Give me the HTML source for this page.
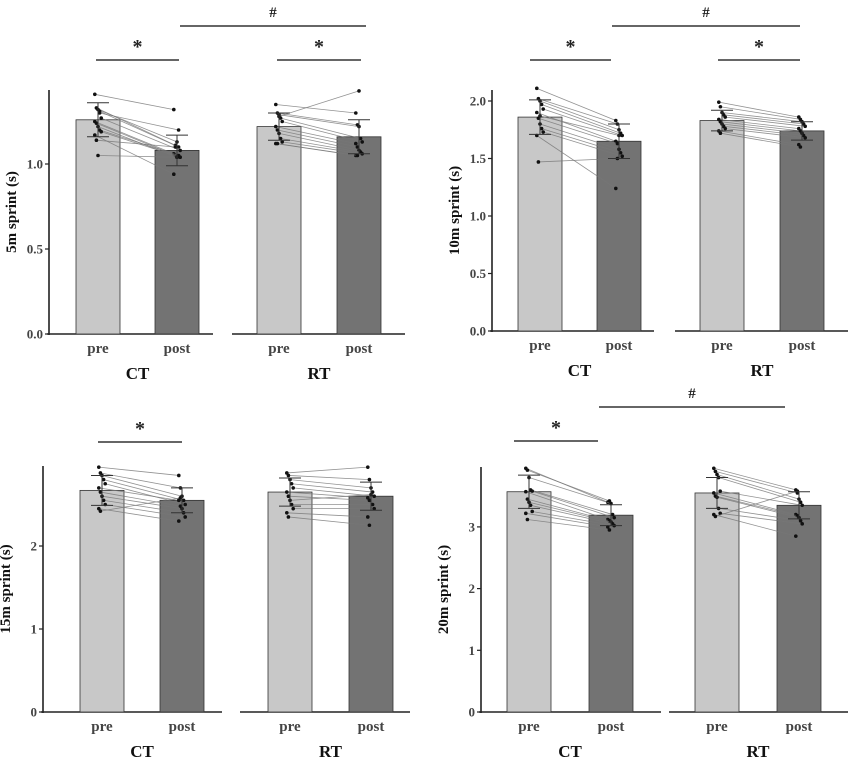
<!DOCTYPE html>
<html><head><meta charset="utf-8"><style>
html,body{margin:0;padding:0;background:#fff}
svg{display:block;font-family:"Liberation Serif",serif}
</style></head><body>
<svg id="fig" width="851" height="762" viewBox="0 0 851 762"></svg>
<script>
// ---- data ----
const conditions = ["pre","post"];
const groups = ["CT","RT"];
const titles = ["5m sprint (s)","10m sprint (s)","15m sprint (s)","20m sprint (s)"];
const ticks5 = ["0.0","0.5","1.0"];
const ticks10 = ["0.0","0.5","1.0","1.5","2.0"];
const ticks15 = ["0","1","2"];
const ticks20 = ["0","1","2","3"];
const means5 = [1.26,1.08,1.22,1.16];
const means10 = [1.86,1.65,1.83,1.74];
const means15 = [2.67,2.55,2.65,2.60];
const means20 = [3.57,3.19,3.55,3.35];
const sd5 = [0.10,0.09,0.08,0.10];
const sd10 = [0.15,0.15,0.09,0.08];
const sd15 = [0.18,0.15,0.17,0.17];
const sd20 = [0.27,0.17,0.25,0.22];
const ct5pre = [1.41,1.33,1.32,1.31,1.27,1.25,1.24,1.22,1.20,1.19,1.17,1.14,1.05,1.30];
const ct5post = [1.32,1.11,1.13,1.10,1.08,1.06,1.05,1.04,1.05,1.04,0.94,1.10,1.04,1.20];
const rt5pre = [1.35,1.30,1.29,1.27,1.25,1.22,1.20,1.18,1.15,1.13,1.12,1.12,1.28];
const rt5post = [1.30,1.23,1.22,1.15,1.13,1.12,1.10,1.08,1.07,1.06,1.05,1.05,1.43];
const ct10pre = [2.11,2.02,2.00,1.97,1.93,1.90,1.85,1.80,1.76,1.73,1.70,1.47,1.87];
const ct10post = [1.83,1.80,1.75,1.72,1.70,1.65,1.63,1.58,1.55,1.52,1.24,1.50,1.70];
const rt10pre = [1.99,1.95,1.90,1.88,1.86,1.84,1.82,1.80,1.78,1.76,1.74,1.72];
const rt10post = [1.86,1.84,1.82,1.80,1.78,1.76,1.74,1.72,1.70,1.68,1.62,1.60];
const ct15pre = [2.95,2.88,2.85,2.80,2.75,2.70,2.65,2.60,2.55,2.50,2.45,2.42];
const ct15post = [2.85,2.70,2.60,2.55,2.50,2.55,2.48,2.45,2.40,2.35,2.30,2.58];
const rt15pre = [2.88,2.85,2.80,2.75,2.70,2.65,2.60,2.55,2.50,2.45,2.40,2.35];
const rt15post = [2.95,2.80,2.70,2.65,2.60,2.58,2.55,2.62,2.50,2.45,2.35,2.25];
const ct20pre = [3.95,3.92,3.80,3.60,3.58,3.57,3.45,3.40,3.35,3.25,3.22,3.12];
const ct20post = [3.40,3.42,3.38,3.20,3.15,3.12,3.10,3.08,3.05,3.02,3.00,2.95];
const rt20pre = [3.95,3.90,3.85,3.80,3.58,3.55,3.50,3.48,3.30,3.22,3.20,3.17];
const rt20post = [3.60,3.55,3.45,3.40,3.35,3.20,3.18,3.15,3.10,3.05,2.85,3.58];

// ---- layout ----
const NS="http://www.w3.org/2000/svg";
const svg=document.getElementById('fig');
function mk(tag,attrs,parent){const e=document.createElementNS(NS,tag);for(const k in attrs)e.setAttribute(k,attrs[k]);(parent||svg).appendChild(e);return e;}

const panels=[
 {title:titles[0],ticks:ticks5,means:means5,sd:sd5,ind:[[ct5pre,ct5post],[rt5pre,rt5post]],ax:49,y0:334,ppu:170,ytop:90,
  groupAx:[[47,213],[232,405]],barX:[[76,155],[257,337]],
  sig:[{x1:96,x2:179,y:60,t:"*"},{x1:277,x2:361,y:60,t:"*"},{x1:180,x2:366,y:26,t:"#"}],tickLbl:["0.0","0.5","1.0"],tickVal:[0,0.5,1.0]},
 {title:titles[1],ticks:ticks10,means:means10,sd:sd10,ind:[[ct10pre,ct10post],[rt10pre,rt10post]],ax:492,y0:331,ppu:115,ytop:90,
  groupAx:[[490,654],[675,848]],barX:[[518,597],[700,780]],
  sig:[{x1:530,x2:611,y:60,t:"*"},{x1:718,x2:800,y:60,t:"*"},{x1:612,x2:800,y:26,t:"#"}]},
 {title:titles[2],ticks:ticks15,means:means15,sd:sd15,ind:[[ct15pre,ct15post],[rt15pre,rt15post]],ax:43,y0:712,ppu:83,ytop:466,
  groupAx:[[41,222],[240,410]],barX:[[80,160],[268,349]],
  sig:[{x1:98,x2:182,y:442,t:"*"}]},
 {title:titles[3],ticks:ticks20,means:means20,sd:sd20,ind:[[ct20pre,ct20post],[rt20pre,rt20post]],ax:481,y0:712,ppu:61.7,ytop:467,
  groupAx:[[479,661],[669,848]],barX:[[507,589],[695,777]],
  sig:[{x1:514,x2:598,y:441,t:"*"},{x1:599,x2:785,y:407,t:"#"}]}
];
const BW=44;
panels.forEach((p,pi)=>{
  const g=mk('g',{});
  
  
  const Y=v=>p.y0-v*p.ppu;
  // y axis
  const yl=mk('line',{x1:p.ax,y1:p.ytop,x2:p.ax,y2:p.y0+1,stroke:'#222','stroke-width':1.6},g);
  
  
  p.ticks.forEach(t=>{
    const v=parseFloat(t);
    const tk=mk('line',{x1:p.ax-4,x2:p.ax,y1:Y(v),y2:Y(v),stroke:'#222','stroke-width':1.2},g);
    
    
    const tl=mk('text',{x:p.ax-6,y:Y(v)+4.5,'text-anchor':'end','font-size':13,'font-weight':'bold',fill:'#444'},g);
    tl.textContent=t;
    
    
  });
  const yt=mk('text',{transform:`translate(${p.ax-33},${(p.ytop+p.y0)/2}) rotate(-90)`,'text-anchor':'middle','font-size':15,'font-weight':'bold',fill:'#111'},g);
  yt.textContent=p.title;
  
  
  groups.forEach((gr,gi)=>{
    const xa=mk('line',{x1:p.groupAx[gi][0],x2:p.groupAx[gi][1],y1:p.y0,y2:p.y0,stroke:'#222','stroke-width':1.6},g);
    
    
    const cx=[];
    conditions.forEach((c,ci)=>{
      const i=gi*2+ci;const x=p.barX[gi][ci];const m=p.means[i];
      const b=mk('rect',{x:x,y:Y(m),width:BW,height:m*p.ppu,fill:ci?'#737373':'#c8c8c8',stroke:'#333','stroke-width':0.8},g);
      
      
      const c0=x+BW/2;cx.push(c0);
      const lb=mk('text',{x:c0,y:p.y0+19,'text-anchor':'middle','font-size':15,'font-weight':'bold',fill:'#444'},g);
      lb.textContent=c;
      
      
    });
    const gl=mk('text',{x:(cx[0]+cx[1])/2,y:p.y0+45,'text-anchor':'middle','font-size':17,'font-weight':'bold',fill:'#111'},g);
    gl.textContent=gr;
    
    
    // individual lines
    const pre=p.ind[gi][0],post=p.ind[gi][1];
    pre.forEach((v,k)=>{
      const w=post[k];const j=((k%5)-2)*1.6;
      const ln=mk('line',{x1:cx[0]+j,y1:Y(v),x2:cx[1]+j,y2:Y(w),stroke:'#777','stroke-width':0.8,opacity:0.8},g);
      
      
      [[cx[0]+j,v],[cx[1]+j,w]].forEach(pt=>{
        const d=mk('circle',{cx:pt[0],cy:Y(pt[1]),r:1.8,fill:'#111'},g);
        
        
      });
    });
    // error bars
    conditions.forEach((c,ci)=>{
      const i=gi*2+ci;const m=p.means[i],s=p.sd[i];const x=cx[ci];
      const e=mk('path',{d:`M${x},${Y(m+s)}V${Y(m-s)}M${x-11},${Y(m+s)}h22M${x-11},${Y(m-s)}h22`,stroke:'#333','stroke-width':1,fill:'none'},g);
      
      
    });
  });
  p.sig.forEach(s=>{
    const l=mk('line',{x1:s.x1,x2:s.x2,y1:s.y,y2:s.y,stroke:'#333','stroke-width':1.6},g);
    
    
    const t=mk('text',{x:(s.x1+s.x2)/2,y:s.t=='*'?s.y-7:s.y-9,'text-anchor':'middle','font-size':s.t=='*'?20:15,'font-weight':'bold',fill:'#222'},g);
    t.textContent=s.t;
    
    
  });
});
</script>
</body></html>
